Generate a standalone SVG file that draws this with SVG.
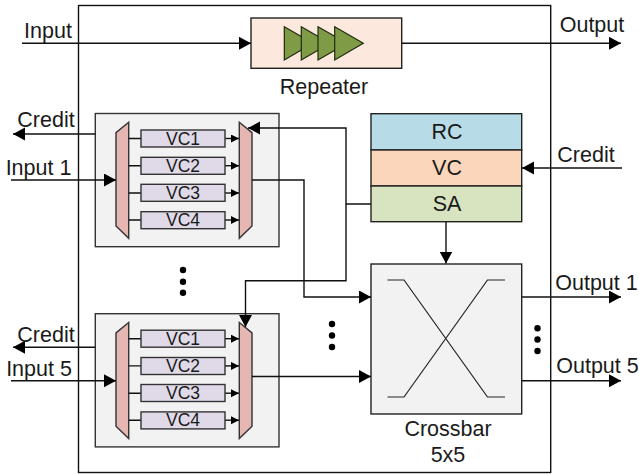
<svg xmlns="http://www.w3.org/2000/svg" width="639" height="474" viewBox="0 0 639 474">
<style>
text{font-family:"Liberation Sans",Arial,sans-serif;fill:#1a1a1a;text-anchor:middle}
.l{font-size:21.5px}
.v{font-size:17.5px}
.s{fill:none;stroke:#111;stroke-width:1.4}
.b{stroke:#333;stroke-width:1.4}
.box{fill:#f2f2f2}
.vc{fill:#e0dae8}
.mux{fill:#e6b6b2}
.tri{fill:#7f9b46;stroke:#1f2a10;stroke-width:1.2}
.dot{fill:#000}
</style>
<defs>
<marker id="a" markerUnits="userSpaceOnUse" markerWidth="13" markerHeight="14" refX="12" refY="6.5" orient="auto"><path d="M0,0L12,6.5L0,13z" fill="#000"/></marker>
<marker id="m" markerUnits="userSpaceOnUse" markerWidth="9" markerHeight="9" refX="8" refY="4" orient="auto"><path d="M0,0L8,4L0,8z" fill="#000"/></marker>
<g id="vcs">
<rect class="box b" x="95.3" y="113.5" width="183.7" height="133.2"/>
<path class="mux b" d="M128.7,122.3L116,132.7V226L128.7,238.3z"/>
<path class="mux b" d="M239.3,122.3L252,132.7V226L239.3,238.3z"/>
<path class="s" d="M128.7,138.5H141M128.7,165.7H141M128.7,193H141M128.7,220H141"/>
<path class="s" d="M225,138.5H239" marker-end="url(#m)"/><path class="s" d="M225,165.7H239" marker-end="url(#m)"/><path class="s" d="M225,193H239" marker-end="url(#m)"/><path class="s" d="M225,220H239" marker-end="url(#m)"/>
<rect class="vc b" x="141" y="130" width="84" height="17"/>
<rect class="vc b" x="141" y="157.3" width="84" height="17"/>
<rect class="vc b" x="141" y="184.3" width="84" height="17"/>
<rect class="vc b" x="141" y="211.7" width="84" height="17"/>
<text class="v" x="183" y="144.7">VC1</text>
<text class="v" x="183" y="171.9">VC2</text>
<text class="v" x="183" y="198.9">VC3</text>
<text class="v" x="183" y="226.2">VC4</text>
</g>
</defs>
<g id="router"><rect x="78.5" y="5.5" width="472.2" height="467" fill="#fff" stroke="#111" stroke-width="1.4"/></g>
<g id="repeater">
<rect x="251" y="18" width="150.7" height="50.3" fill="#fce8dc" stroke="#222" stroke-width="1.4"/>
<path class="tri" d="M284.3,26.7L313,43.3L284.3,60z"/>
<path class="tri" d="M301.3,26.7L330,43.3L301.3,60z"/>
<path class="tri" d="M318,26.7L347,43.3L318,60z"/>
<path class="tri" d="M334.7,26.7L363.3,43.3L334.7,60z"/>
<text class="l" x="324" y="93.5">Repeater</text>
</g>
<g id="vc-group-1"><use href="#vcs"/></g>
<g id="vc-group-5"><use href="#vcs" y="200.2"/></g>
<g id="pipeline">
<rect x="371" y="113.7" width="150.7" height="36.3" fill="#b7dce8" stroke="#222" stroke-width="1.4"/>
<rect x="371" y="150" width="150.7" height="36" fill="#fcd6ba" stroke="#222" stroke-width="1.4"/>
<rect x="371" y="186" width="150.7" height="35.7" fill="#d8e3bf" stroke="#222" stroke-width="1.4"/>
<text class="l" x="447" y="139">RC</text>
<text class="l" x="447" y="175">VC</text>
<text class="l" x="447" y="211">SA</text>
</g>
<g id="crossbar">
<rect class="box" x="371" y="264" width="150.7" height="150" stroke="#222" stroke-width="1.4"/>
<path d="M387.5,280H404L487.5,397H505M387.5,397H404L487.5,280H505" fill="none" stroke="#222" stroke-width="1.2"/>
<text class="l" x="448" y="436">Crossbar</text>
<text class="l" x="448" y="461.5">5x5</text>
</g>
<g id="connectors">
<path class="s" d="M22,43.3H251" marker-end="url(#a)"/>
<path class="s" d="M401.7,43.3H621" marker-end="url(#a)"/>
<path class="s" d="M95.3,134H13" marker-end="url(#a)"/>
<path class="s" d="M11,180H116" marker-end="url(#a)"/>
<path class="s" d="M95.3,347.3H13" marker-end="url(#a)"/>
<path class="s" d="M11,380.7H116" marker-end="url(#a)"/>
<path class="s" d="M371,204H346V128H248" marker-end="url(#a)"/>
<path class="s" d="M346,204V280.7H245.5V327" marker-end="url(#a)"/>
<path class="s" d="M252,180H304V297H371" marker-end="url(#a)"/>
<path class="s" d="M252,376.5H371" marker-end="url(#a)"/>
<path class="s" d="M446,221.7V263.5" marker-end="url(#a)"/>
<path class="s" d="M622,168H522" marker-end="url(#a)"/>
<path class="s" d="M521.7,297H621" marker-end="url(#a)"/>
<path class="s" d="M521.7,380.7H621" marker-end="url(#a)"/>
</g>
<g id="labels">
<text class="l" x="48" y="38">Input</text>
<text class="l" x="592" y="32">Output</text>
<text class="l" x="46" y="126.5">Credit</text>
<text class="l" x="38.5" y="175">Input 1</text>
<text class="l" x="46" y="341.5">Credit</text>
<text class="l" x="39" y="376">Input 5</text>
<text class="l" x="586" y="161.5">Credit</text>
<text class="l" x="596.5" y="290">Output 1</text>
<text class="l" x="597.5" y="373">Output 5</text>
</g>
<g id="dots">
<circle class="dot" cx="183" cy="270" r="3.2"/><circle class="dot" cx="183" cy="281.7" r="3.2"/><circle class="dot" cx="183" cy="292.7" r="3.2"/>
<circle class="dot" cx="332" cy="324" r="3.2"/><circle class="dot" cx="332" cy="335.5" r="3.2"/><circle class="dot" cx="332" cy="347" r="3.2"/>
<circle class="dot" cx="537.5" cy="328.3" r="3.2"/><circle class="dot" cx="537.5" cy="339.5" r="3.2"/><circle class="dot" cx="537.5" cy="351" r="3.2"/>
</g>
</svg>
